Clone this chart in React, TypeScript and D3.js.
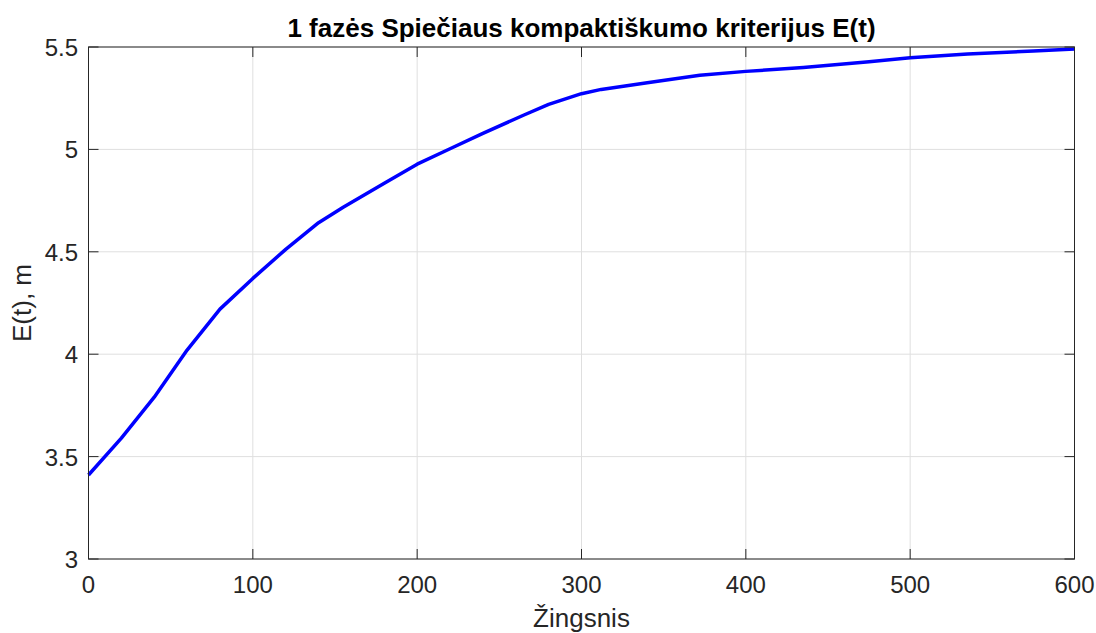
import React from "react";
import * as d3 from "d3";

const steps = [0, 20, 40, 60, 80, 100, 120, 140, 155, 180, 200, 220, 240, 265, 280, 300, 312, 340, 372, 400, 435, 475, 500, 535, 575, 600];
const values = [3.41, 3.59, 3.79, 4.02, 4.22, 4.37, 4.512, 4.642, 4.717, 4.835, 4.928, 5.003, 5.078, 5.168, 5.22, 5.272, 5.293, 5.325, 5.362, 5.381, 5.4, 5.428, 5.448, 5.466, 5.48, 5.49];
const xTicks = [0, 100, 200, 300, 400, 500, 600];
const yTicks = [3, 3.5, 4, 4.5, 5, 5.5];
const yTickLabels = ["3", "3.5", "4", "4.5", "5", "5.5"];
const title = "1 fazės Spiečiaus kompaktiškumo kriterijus E(t)";
const xLabel = "Žingsnis";
const yLabel = "E(t), m";

export default function App() {
  const W = 1096, H = 633;
  const left = 88.5, right = 1074.5, top = 47, bottom = 559;
  const x = d3.scaleLinear().domain([0, 600]).range([left, right]);
  const y = d3.scaleLinear().domain([3, 5.5]).range([bottom, top]);
  const line = d3.line<number>().x((_, i) => x(steps[i])).y((d) => y(d)).curve(d3.curveLinear);
  const axisColor = "#262626";
  const font = "'Liberation Sans', Arial, Helvetica, sans-serif";
  const tl = 10;
  return (
    <svg width={W} height={H} style={{ position: "absolute", left: 0, top: 0, background: "#fff" }} fontFamily={font}>
      <rect x={0} y={0} width={W} height={H} fill="#fff" />
      {xTicks.map((t) => (
        <line key={"gx" + t} x1={x(t)} x2={x(t)} y1={top} y2={bottom} stroke="#dfdfdf" strokeWidth={1} />
      ))}
      {yTicks.map((t) => (
        <line key={"gy" + t} x1={left} x2={right} y1={y(t)} y2={y(t)} stroke="#dfdfdf" strokeWidth={1} />
      ))}
      <path d={line(values) || ""} fill="none" stroke="#0000ff" strokeWidth={3.5} strokeLinejoin="round" />
      <rect x={left} y={top} width={right - left} height={bottom - top} fill="none" stroke={axisColor} strokeWidth={1} />
      {xTicks.map((t) => (
        <g key={"tx" + t}>
          <line x1={x(t)} x2={x(t)} y1={bottom} y2={bottom - tl} stroke={axisColor} />
          <line x1={x(t)} x2={x(t)} y1={top} y2={top + tl} stroke={axisColor} />
          <text x={x(t)} y={593} textAnchor="middle" fontSize={24} fill={axisColor}>{t}</text>
        </g>
      ))}
      {yTicks.map((t, i) => (
        <g key={"ty" + t}>
          <line x1={left} x2={left + tl} y1={y(t)} y2={y(t)} stroke={axisColor} />
          <line x1={right} x2={right - tl} y1={y(t)} y2={y(t)} stroke={axisColor} />
          <text x={78} y={y(t) + 9} textAnchor="end" fontSize={24} fill={axisColor}>{yTickLabels[i]}</text>
        </g>
      ))}
      <text x={(left + right) / 2} y={37} textAnchor="middle" fontSize={26} fontWeight="bold" fill="#000">{title}</text>
      <text x={(left + right) / 2} y={627} textAnchor="middle" fontSize={26} fill={axisColor}>{xLabel}</text>
      <text transform={`translate(31, ${(top + bottom) / 2}) rotate(-90)`} textAnchor="middle" fontSize={26} fill={axisColor}>{yLabel}</text>
    </svg>
  );
}
